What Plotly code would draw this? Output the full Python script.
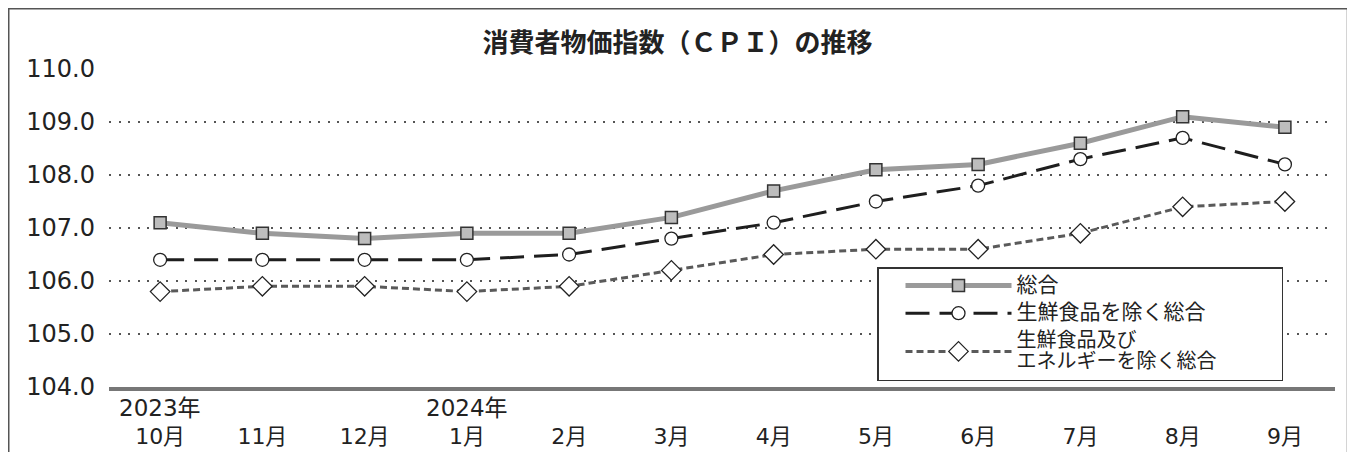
import plotly.graph_objects as go

months = ["10月", "11月", "12月", "1月", "2月", "3月", "4月", "5月", "6月", "7月", "8月", "9月"]
year_labels = {0: "2023年", 3: "2024年"}
sogo = [107.1, 106.9, 106.8, 106.9, 106.9, 107.2, 107.7, 108.1, 108.2, 108.6, 109.1, 108.9]
core = [106.4, 106.4, 106.4, 106.4, 106.5, 106.8, 107.1, 107.5, 107.8, 108.3, 108.7, 108.2]
core_core = [105.8, 105.9, 105.9, 105.8, 105.9, 106.2, 106.5, 106.6, 106.6, 106.9, 107.4, 107.5]
y_ticks = [104, 105, 106, 107, 108, 109, 110]
series_names = ["総合", "生鮮食品を除く総合", "生鮮食品及び<br>エネルギーを除く総合\u3000\u3000\u3000"]

JP = "Noto Sans CJK JP"
NUM = "DejaVu Sans, Noto Sans CJK JP"
x = list(range(len(months)))

W, H = 1347, 444
L, R, T, B = 101, 20, 61, 65
PW = W - L - R
PH = H - T - B


def leg(name, size):
    return '<span style="font-size:%dpx">' % size + name + "</span>"


fig = go.Figure()
fig.add_trace(go.Scatter(
    x=x, y=sogo, name=leg(series_names[0], 21), mode="lines+markers", legendgroup="a",
    line=dict(color="#9a9a9a", width=5),
    marker=dict(symbol="square", size=12, color="#bdbdbd", line=dict(color="#333333", width=1.5)),
))
fig.add_trace(go.Scatter(
    x=x, y=core, name=leg(series_names[1], 21), mode="lines+markers", legendgroup="b",
    line=dict(color="#1e1e1e", width=3, dash="24px,10px"),
    marker=dict(symbol="circle", size=13, color="white", line=dict(color="#222222", width=1.3)),
))
fig.add_trace(go.Scatter(
    x=x, y=core_core, name=leg(series_names[2], 20), mode="lines+markers", legendgroup="c",
    line=dict(color="#5a5a5a", width=3, dash="7px,4px"),
    marker=dict(symbol="diamond", size=15, color="white", line=dict(color="#222222", width=1.3)),
))

fig.update_layout(
    width=W, height=H,
    margin=dict(l=L, r=R, t=T, b=B),
    paper_bgcolor="white", plot_bgcolor="white",
    font=dict(family=JP, color="#222222"),
    title=dict(text="消費者物価指数（ＣＰＩ）の推移", x=669.5 / W, xanchor="center",
               y=1 - 35 / H, yanchor="middle",
               font=dict(family=JP, size=26, color="#222222", weight="bold")),
    xaxis=dict(range=[-0.5, 11.49], tickmode="array", tickvals=x, ticktext=months,
               showgrid=False, zeroline=False, showline=True, linecolor="#777777", linewidth=4,
               ticks="", automargin=False,
               tickfont=dict(family=NUM, size=22, color="#222222"), ticklabelstandoff=27),
    yaxis=dict(range=[104, 110], tickmode="array", tickvals=y_ticks,
               ticktext=[f"{v:.1f}" for v in y_ticks], automargin=False,
               showgrid=True, gridcolor="#555555", gridwidth=2, griddash="2px,7.5px",
               zeroline=False, showline=False, ticks="",
               tickfont=dict(family=NUM, size=24, color="#222222"), ticklabelstandoff=13),
    legend=dict(x=(869 - L) / PW, y=(379 - 259) / PH, xanchor="left", yanchor="top",
                bgcolor="white", bordercolor="#333333", borderwidth=1.5,
                font=dict(family=JP, size=16, color="#222222"),
                traceorder="grouped", tracegroupgap=4,
                itemwidth=106, indentation=22),
    showlegend=True,
)

for i, label in year_labels.items():
    fig.add_annotation(x=i, y=(379 - 400) / PH, xref="x", yref="paper", text=label,
                       showarrow=False, xanchor="center", yanchor="middle",
                       font=dict(family=NUM, size=23, color="#222222"))

fig.add_shape(type="rect", xref="paper", yref="paper",
              x0=(0.75 - L) / PW, x1=(1339.5 - L) / PW,
              y0=-0.5, y1=(379 - 0.75) / PH,
              line=dict(color="#555555", width=1.5), fillcolor="rgba(0,0,0,0)", layer="below")

fig.write_html("out.html")
